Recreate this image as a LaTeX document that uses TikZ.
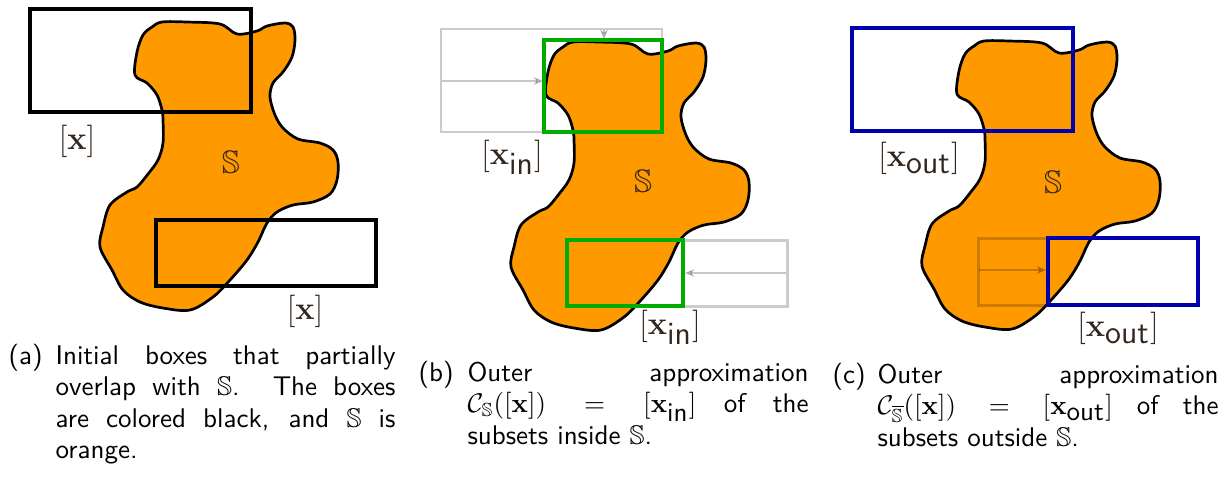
\documentclass[tikz,border=0pt]{standalone}
\usepackage{amssymb}
\usetikzlibrary{arrows.meta}
\definecolor{blobor}{RGB}{255,153,0}
\definecolor{boxgreen}{RGB}{0,172,0}
\definecolor{boxblue}{RGB}{0,0,172}
\definecolor{lblcol}{RGB}{50,38,30}
\newcommand\drawmyblob{%
  \filldraw[blobshape] plot[smooth cycle, tension=0.55] coordinates {
   (135,75) (137,52) (143,35) (152,27) (162,22) (187,22) (220,24) (237,34)
   (257,31) (267,26) (285,23) (293,27) (295,40) (292,57) (283,72) (273,83)
   (270,97) (275,115) (283,128) (298,139) (320,143) (333,150) (338,162)
   (337,180) (330,194) (313,202) (293,205) (277,212) (267,223) (258,242)
   (247,260) (230,280) (213,297) (190,310) (163,308) (140,302) (123,290)
   (112,270) (100,247) (103,227) (110,205) (127,192) (137,187) (148,174)
   (158,160) (163,143) (163,120) (162,110) (157,95) (147,83)};}
\newcommand\capfont{\fontsize{10pt}{11.7pt}\selectfont\sffamily\hyphenpenalty=10000 }
\begin{document}
\begin{tikzpicture}[x=0.37pt,y=-0.37pt,
  blobshape/.style={fill=blobor, draw=black, line width=1pt, line join=round},
  abox/.style={draw=black, line width=1.25pt},
  gbox/.style={draw=black, draw opacity=0.2, line width=1.1pt},
  inbox/.style={draw=boxgreen, line width=1.25pt},
  outbox/.style={draw=boxblue, line width=1.25pt},
  garrow/.style={draw=black, opacity=0.22, line width=0.4pt, -{Stealth[length=3.5pt,width=3pt]}},
  lbl/.style={text=lblcol, font=\large, inner sep=0pt},
  setlbl/.style={text=lblcol, font=\large, inner sep=0pt},
  captag/.style={anchor=base west, inner sep=0pt, font=\capfont},
  captext/.style={anchor=base west, inner sep=0pt}]
\useasboundingbox (0,0) rectangle (1231,479);
% ---------- (a)
\begin{scope}
  \drawmyblob
\end{scope}
\draw[abox] (30,9) rectangle (251,112);
\draw[abox] (156,220) rectangle (376,286);
\node[lbl] (la1) at (77,141) {$[\mathbf{x}]$};
\node[lbl] (la2) at (305,311) {$[\mathbf{x}]$};
\node[setlbl] (sa) at (231,162) {$\mathbb{S}$};
% ---------- (b)
\begin{scope}[shift={(411,20)}]
  \drawmyblob
\end{scope}
\draw[gbox] (441,29) rectangle (662,132);
\draw[gbox] (567,240) rectangle (787,306);
\coordinate (bh1) at (442,81);
\coordinate (bh2) at (543,81);
\coordinate (bv1) at (604,30);
\coordinate (bv2) at (604,39);
\coordinate (bb1) at (786,273);
\coordinate (bb2) at (685,273);
\draw[garrow] (bh1) -- (bh2);
\draw[garrow] (bv1) -- (bv2);
\draw[garrow] (bb1) -- (bb2);
\draw[inbox] (544,40) rectangle (662,132);
\draw[inbox] (567,240) rectangle (683,306);
\node[lbl] (lb1) at (512,157) {$[\mathbf{x}_{\textsf{in}}]$};
\node[lbl] (lb2) at (670,327) {$[\mathbf{x}_{\textsf{in}}]$};
\node[setlbl] (sb) at (643,181) {$\mathbb{S}$};
% ---------- (c)
\begin{scope}[shift={(822,19)}]
  \drawmyblob
\end{scope}
\draw[gbox] (978,238) rectangle (1198,305);
\coordinate (cb1) at (979,270);
\coordinate (cb2) at (1046,270);
\draw[garrow] (cb1) -- (cb2);
\draw[outbox] (852,28) rectangle (1073,131);
\draw[outbox] (1048,238) rectangle (1198,305);
\node[lbl] (lc1) at (919,158) {$[\mathbf{x}_{\textsf{out}}]$};
\node[lbl] (lc2) at (1118,328) {$[\mathbf{x}_{\textsf{out}}]$};
\node[setlbl] (sc) at (1053,182) {$\mathbb{S}$};
% ---------- captions
\node[captag] (tga) at (8,364) {(a)};
\node[captext] (cpa) at (55,364) {\parbox[t]{125.8pt}{\capfont Initial boxes that partially\linebreak overlap with $\mathbb{S}$. The boxes\linebreak are colored black, and $\mathbb{S}$ is\linebreak orange.}};
\node[captag] (tgb) at (418,381) {(b)};
\node[captext] (cpb) at (467,381) {\parbox[t]{126.2pt}{\capfont Outer approximation\linebreak $\mathcal{C}_{\mathbb{S}}([\mathbf{x}]) = [\mathbf{x}_{\textsf{in}}]$ of the\linebreak subsets inside $\mathbb{S}$.}};
\node[captag] (tgc) at (832,383) {(c)};
\node[captext] (cpc) at (877,383) {\parbox[t]{126.2pt}{\capfont Outer approximation\linebreak $\mathcal{C}_{\overline{\mathbb{S}}}([\mathbf{x}]) = [\mathbf{x}_{\textsf{out}}]$ of the\linebreak subsets outside $\mathbb{S}$.}};
\end{tikzpicture}
\end{document}
